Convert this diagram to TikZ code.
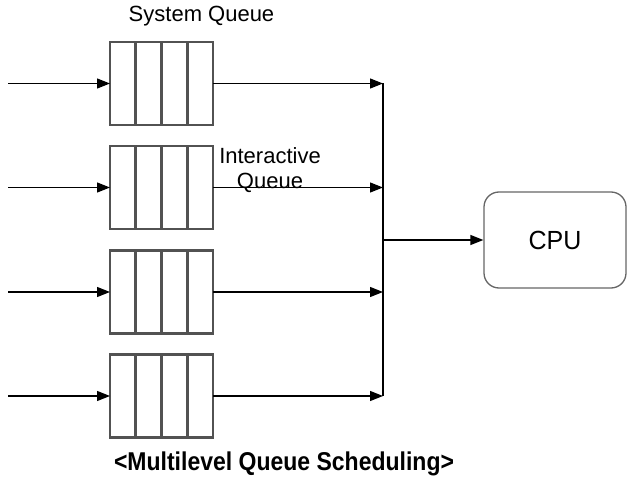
\documentclass[tikz,border=0pt]{standalone}
\usepackage{fontspec}
\setmainfont{Liberation Sans}
\usetikzlibrary{arrows.meta,calc}
\begin{document}
\begin{tikzpicture}[x=1pt,y=-1pt,
  queue/.style={draw=black!68,line width=2.6pt,minimum width=103pt,minimum height=83pt,inner sep=0pt,outer sep=0pt},
  conn/.style={line width=1.4pt,-{Triangle[length=13pt,width=10pt]}},
  plain/.style={line width=1.4pt},
  lbl/.style={font=\fontsize{22}{25}\selectfont,inner sep=0pt,align=center}]
\useasboundingbox (0,0) rectangle (632,484);
% queues
\foreach \i/\y in {1/83.5,2/187.5,3/292,4/396}{
  \node[queue] (q\i) at (161.5,\y) {};
  \foreach \k in {1,2,3}{
    \draw[draw=black!68,line width=2.6pt] ($(q\i.north west)!\k/4!(q\i.north east)$) -- ($(q\i.south west)!\k/4!(q\i.south east)$);
  }
  \coordinate (in\i) at (8,\y);
  \coordinate (j\i) at (383,\y);
  \draw[conn] (in\i) -- (q\i.west);
  \draw[conn] (q\i.east) -- (j\i);
}
\draw[plain] (j1) -- (j4);
\coordinate (jc) at (383,240);
\node[draw=black!60,line width=1.3pt,rounded corners=15pt,minimum width=142pt,minimum height=96pt,inner sep=0pt,font=\fontsize{25}{28}\selectfont] (cpu) at (555,240) {\scalebox{1}[1.05]{CPU}};
\draw[conn] (jc) -- (cpu.west);
\node[lbl] (sysq) at (201.5,16) {System Queue};
\node[lbl] (intq) at (270,170) {Interactive\\Queue};
\node[font=\bfseries\fontsize{23}{26}\selectfont,inner sep=0pt] (title) at (284,464) {\scalebox{1}[1.12]{<Multilevel Queue Scheduling>}};
\end{tikzpicture}
\end{document}
